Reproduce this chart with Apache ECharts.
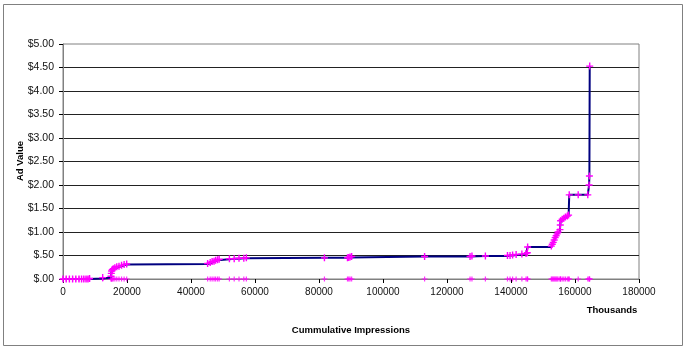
<!DOCTYPE html>
<html>
<head>
<meta charset="utf-8">
<script src="https://cdn.jsdelivr.net/npm/echarts@6/dist/echarts.min.js"></script>
<style>
html,body{margin:0;padding:0;background:#fff;}
#chart{width:692px;height:355px;}
</style>
</head>
<body>
<div id="chart"></div>
<script>
// Cumulative impressions (thousands) for each plotted point
var impressions = [0,1000,2000,3000,4000,5000,5800,6500,7200,7800,8300,12400,
  15000,15100,15200,15400,15700,16200,16800,17500,18300,19100,19900,
  45200,46000,46600,47200,47700,48300,48800,
  52000,53500,55000,56500,57300,
  81700,
  88900,89300,89700,90200,
  113000,
  127200,127800,132000,
  138900,139700,140500,141600,143400,144700,145100,145200,
  152600,152900,153200,153500,153800,154100,154400,154700,155300,155400,155500,
  156000,156500,157000,157600,158000,158200,161000,164000,164400,164500,164600];
// Ad value ($) for each point
var adValue = [0,0,0,0,0,0,0,0,0,0,0.01,0.03,
  0.06,0.12,0.17,0.20,0.22,0.24,0.26,0.27,0.29,0.31,0.32,
  0.33,0.35,0.37,0.38,0.40,0.41,0.42,
  0.43,0.43,0.44,0.44,0.45,
  0.45,
  0.45,0.46,0.47,0.48,
  0.48,
  0.48,0.49,0.49,
  0.50,0.50,0.51,0.52,0.53,0.54,0.56,0.68,
  0.70,0.74,0.78,0.83,0.88,0.92,0.96,1.00,1.05,1.15,1.24,
  1.27,1.29,1.32,1.34,1.36,1.79,1.79,1.79,2.00,2.19,4.53];
// Second series: markers along the zero line
var zeroValue = 0;
var yTicks = {min: 0, max: 5, step: 0.5};
var xTicks = {min: 0, max: 180000, step: 20000};

var mainData = impressions.map(function (x, i) { return [x, adValue[i]]; });
var zeroData = impressions.map(function (x) { return [x, zeroValue]; });

var plus = 'path://M4,0 L6,0 L6,4 L10,4 L10,6 L6,6 L6,10 L4,10 L4,6 L0,6 L0,4 L4,4 Z';
var font = '"Liberation Sans", Arial, sans-serif';

var chart = echarts.init(document.getElementById('chart'), null, {renderer: 'canvas'});
chart.setOption({
  animation: false,
  backgroundColor: '#fff',
  grid: {left: 63, right: 53, top: 44, bottom: 76, show: true, borderColor: '#808080', borderWidth: 1},
  xAxis: {
    type: 'value', min: xTicks.min, max: xTicks.max, interval: xTicks.step,
    axisLine: {show: true, lineStyle: {color: '#808080', width: 1}},
    axisTick: {show: true, inside: false, length: 4, lineStyle: {color: '#000'}},
    axisLabel: {color: '#111', fontFamily: font, fontSize: 10, margin: 8,
      formatter: function (v) { return String(v); }},
    splitLine: {show: false}
  },
  yAxis: {
    type: 'value', min: yTicks.min, max: yTicks.max, interval: yTicks.step,
    axisLine: {show: true, lineStyle: {color: '#808080', width: 1}},
    axisTick: {show: true, inside: false, length: 4, lineStyle: {color: '#000'}},
    axisLabel: {color: '#111', fontFamily: font, fontSize: 10.5, margin: 9,
      formatter: function (v) { return '$' + v.toFixed(2).replace(/^0/, ''); }},
    splitLine: {show: true, showMinLine: false, showMaxLine: false, lineStyle: {color: '#222', width: 1}}
  },
  series: [
    {
      type: 'scatter', data: zeroData, symbol: plus, symbolSize: [6, 5],
      itemStyle: {color: '#ff00ff'}, clip: false, z: 3
    },
    {
      type: 'line', data: mainData, step: 'end', symbol: plus, symbolSize: 7,
      showSymbol: true, showAllSymbol: true, clip: false,
      lineStyle: {color: '#000080', width: 2},
      itemStyle: {color: '#ff00ff'}, z: 4
    }
  ],
  graphic: [
    {type: 'rect', shape: {x: 3.5, y: 4.5, width: 679, height: 341}, style: {fill: 'none', stroke: '#808080', lineWidth: 1}, silent: true, z: -1},
    {type: 'text', x: 20, y: 161, rotation: Math.PI / 2, style: {text: 'Ad Value', font: 'bold 9.5px ' + font, fill: '#000', textAlign: 'center', textVerticalAlign: 'middle'}},
    {type: 'text', x: 351, y: 330, style: {text: 'Cummulative Impressions', font: 'bold 9.5px ' + font, fill: '#000', textAlign: 'center', textVerticalAlign: 'middle'}},
    {type: 'text', x: 612, y: 310, style: {text: 'Thousands', font: 'bold 9.5px ' + font, fill: '#000', textAlign: 'center', textVerticalAlign: 'middle'}}
  ]
});
</script>
</body>
</html>
